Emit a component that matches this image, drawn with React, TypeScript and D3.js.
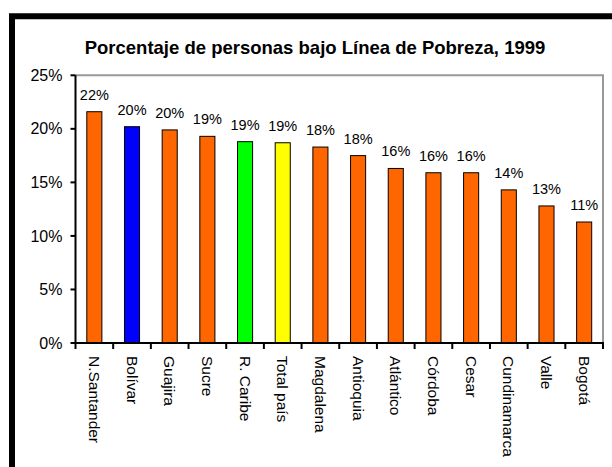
import React from "react";
import * as d3 from "d3";

const categories = ["N.Santander", "Bolívar", "Guajira", "Sucre", "R. Caribe", "Total país", "Magdalena", "Antioquia", "Atlántico", "Córdoba", "Cesar", "Cundinamarca", "Valle", "Bogotá"];
const values = [21.6, 20.2, 19.9, 19.3, 18.8, 18.7, 18.3, 17.5, 16.3, 15.9, 15.9, 14.3, 12.8, 11.3];
const valueLabels = ["22%", "20%", "20%", "19%", "19%", "19%", "18%", "18%", "16%", "16%", "16%", "14%", "13%", "11%"];
const colors = ["#FF6600", "#0000FF", "#FF6600", "#FF6600", "#00FF00", "#FFFF00", "#FF6600", "#FF6600", "#FF6600", "#FF6600", "#FF6600", "#FF6600", "#FF6600", "#FF6600"];
const yTicks = [0, 5, 10, 15, 20, 25];
const title = "Porcentaje de personas bajo Línea de Pobreza, 1999";

const W = 612, H = 467;
const left = 75.5, right = 603, top = 75.3, bottom = 343;
const font = "'Liberation Sans', Arial, sans-serif";

export default function App() {
  const x = d3.scaleBand<string>().domain(categories).range([left, right]).paddingInner(0.6).paddingOuter(0.3);
  const xStep = d3.scaleBand<string>().domain(categories).range([left, right]);
  const y = d3.scaleLinear().domain([0, 25]).range([bottom, top]);
  return (
    <svg width={W} height={H} style={{ position: "absolute", left: 0, top: 0, background: "#fff" }} fontFamily={font}>
      <rect x={0} y={0} width={W} height={H} fill="#fff" />
      <path d={`M12,${H + 10} L12,16.2 L${W + 10},16.2`} fill="none" stroke="#000" strokeWidth={6} />
      <text x={315} y={54} textAnchor="middle" fontWeight="bold" fontSize={18.5}>{title}</text>
      {/* plot border top/right */}
      <path d={`M${left},${top} L${right},${top} L${right},${bottom}`} fill="none" stroke="#999" strokeWidth={2} />
      {/* bars */}
      {categories.map((c, i) => (
        <g key={c}>
          <rect x={x(c)} y={y(values[i])} width={x.bandwidth()} height={bottom - y(values[i])} fill={colors[i]} stroke="#000" strokeWidth={1} />
          <text x={(x(c) as number) + x.bandwidth() / 2} y={y(values[i]) - 12} textAnchor="middle" fontSize={14.5}>{valueLabels[i]}</text>
          <text transform={`translate(${(xStep(c) as number) + xStep.bandwidth() / 2},356) rotate(90)`} dy="0.35em" fontSize={15.5}>{c}</text>
        </g>
      ))}
      {/* axes */}
      <line x1={left} x2={left} y1={top} y2={bottom + 1} stroke="#000" strokeWidth={2} />
      <line x1={left - 1} x2={right + 1} y1={bottom} y2={bottom} stroke="#000" strokeWidth={2} />
      {yTicks.map(t => (
        <g key={t}>
          <line x1={left - 5} x2={left} y1={y(t)} y2={y(t)} stroke="#000" strokeWidth={2} />
          <text x={left - 13} y={y(t)} dy="0.35em" textAnchor="end" fontSize={16}>{t}%</text>
        </g>
      ))}
      {categories.concat(["_end"]).map((c, i) => {
        const xv = left + i * xStep.step();
        return <line key={c} x1={xv} x2={xv} y1={bottom} y2={bottom + 6} stroke="#000" strokeWidth={2} />;
      })}
    </svg>
  );
}
